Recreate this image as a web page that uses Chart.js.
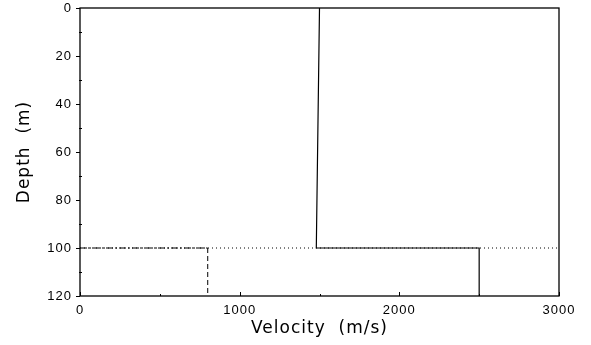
<!DOCTYPE html>
<html>
<head>
<meta charset="utf-8">
<script src="https://cdn.jsdelivr.net/npm/chart.js@4/dist/chart.umd.min.js"></script>
<style>
  html, body { margin: 0; padding: 0; background: #fff; }
  #wrap { width: 591px; height: 345px; }
</style>
</head>
<body>
<div id="wrap"><canvas id="perfil"></canvas></div>
<script>
// Perfil de velocidad: capa superior con gradiente leve, semiespacio a 100 m
const profDepth = [0, 100, 100, 120];
const profVel = [1500, 1480, 2500, 2500];

// Modelo alternativo (trazo discontinuo)
const altDepth = [100, 100, 120];
const altVel = [0, 800, 800];

// Referencia de la interfaz
const ifaceDepth = [100, 100];
const ifaceVel = [0, 3000];

// Marcas de los ejes
const xMajor = [0, 1000, 2000, 3000];
const xMinor = [500, 1500, 2500];
const yMajor = [0, 20, 40, 60, 80, 100, 120];
const yMinor = [10, 30, 50, 70, 90, 110];

const pts = (xs, ys) => xs.map((x, i) => ({ x: x, y: ys[i] }));

// marco completo + marcas cortas hacia dentro/fuera
const marco = {
  id: 'marco',
  beforeDraw(chart) { chart.ctx.letterSpacing = '1px'; },
  afterDraw(chart) {
    const { ctx, chartArea: a, scales } = chart;
    ctx.save();
    ctx.letterSpacing = '0px';
    ctx.strokeStyle = '#000';
    ctx.lineWidth = 1.3;
    ctx.strokeRect(a.left, a.top, a.right - a.left, a.bottom - a.top);
    ctx.lineWidth = 1;
    ctx.beginPath();
    yMajor.forEach(v => {
      const y = Math.round(scales.y.getPixelForValue(v)) + 0.5;
      ctx.moveTo(a.left - 4, y); ctx.lineTo(a.left, y);
    });
    yMinor.forEach(v => {
      const y = Math.round(scales.y.getPixelForValue(v)) + 0.5;
      ctx.moveTo(a.left - 1, y); ctx.lineTo(a.left + 2, y);
    });
    xMajor.forEach(v => {
      const x = Math.round(scales.x.getPixelForValue(v)) + 0.5;
      ctx.moveTo(x, a.bottom); ctx.lineTo(x, a.bottom - 4);
    });
    xMinor.forEach(v => {
      const x = Math.round(scales.x.getPixelForValue(v)) + 0.5;
      ctx.moveTo(x, a.bottom); ctx.lineTo(x, a.bottom - 2);
    });
    ctx.stroke();
    ctx.restore();
  }
};

// order menor = se dibuja encima
const linea = (data, dash, width, order) => ({
  data: data,
  showLine: true,
  borderColor: '#000',
  borderWidth: width || 1,
  borderDash: dash || [],
  pointRadius: 0,
  order: order
});

new Chart(document.getElementById('perfil'), {
  type: 'scatter',
  data: {
    datasets: [
      linea(pts(ifaceVel, ifaceDepth), [1, 3], 1, 4),
      // tramo horizontal punto-raya, tramo vertical a trazos
      linea(pts(altVel.slice(0, 2), altDepth.slice(0, 2)), [7, 2, 2, 2], 1, 2),
      linea(pts(altVel.slice(1), altDepth.slice(1)), [5, 3], 1, 3),
      linea(pts(profVel, profDepth), [], 1.2, 1)
    ]
  },
  options: {
    responsive: true,
    maintainAspectRatio: false,
    animation: false,
    layout: { padding: { top: 8, right: 32, left: 0, bottom: 0 } },
    plugins: { legend: { display: false }, tooltip: { enabled: false } },
    scales: {
      x: {
        type: 'linear',
        min: 0, max: 3000,
        afterFit: s => { s.height = 49; s.paddingLeft = 0; s.paddingRight = 0; },
        afterBuildTicks: s => { s.ticks = xMajor.map(v => ({ value: v })); },
        grid: { display: false, drawTicks: false },
        border: { display: false },
        ticks: {
          color: '#000', padding: 7, maxRotation: 0,
          font: { family: 'Liberation Sans', size: 13 },
          callback: v => String(v)
        },
        title: {
          display: true,
          text: 'Velocity  (m/s)',
          color: '#000',
          font: { family: 'DejaVu Sans', size: 17 },
          padding: { top: 0, bottom: 6 }
        }
      },
      y: {
        type: 'linear',
        reverse: true,
        min: 0, max: 120,
        afterFit: s => { s.width = 80; s.paddingTop = 0; s.paddingBottom = 0; },
        afterBuildTicks: s => { s.ticks = yMajor.map(v => ({ value: v })); },
        grid: { display: false, drawTicks: false },
        border: { display: false },
        ticks: {
          color: '#000', padding: 8,
          font: { family: 'Liberation Sans', size: 13 },
          callback: v => String(v)
        },
        title: {
          display: true,
          text: 'Depth  (m)',
          color: '#000',
          font: { family: 'DejaVu Sans', size: 17 },
          padding: { top: 14, bottom: 0 }
        }
      }
    }
  },
  plugins: [marco]
});
</script>
</body>
</html>
